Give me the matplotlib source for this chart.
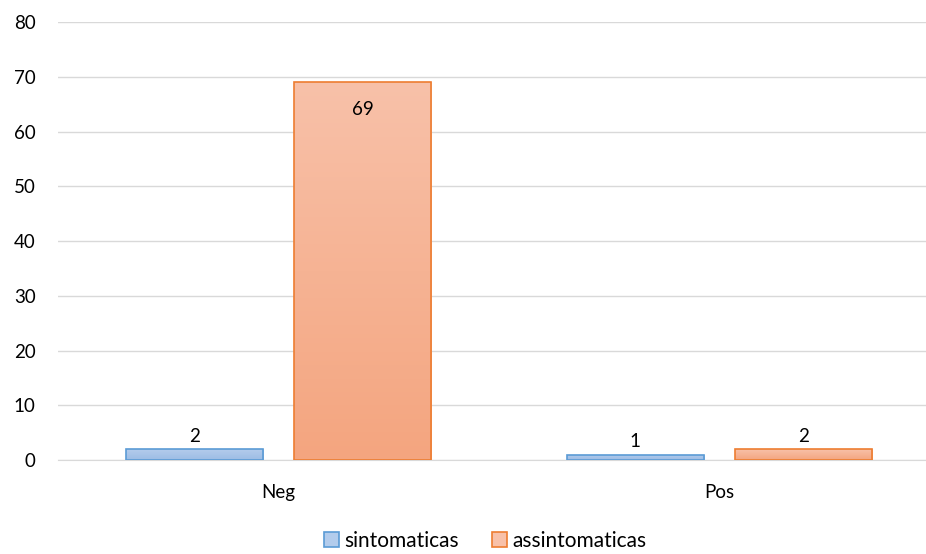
import numpy as np
import matplotlib.pyplot as plt
from matplotlib.colors import LinearSegmentedColormap
from matplotlib.patches import Patch

plt.rcParams['font.family'] = ['Lato', 'DejaVu Sans']

categories = ["Neg", "Pos"]
sintomaticas = [2, 1]
assintomaticas = [69, 2]
series_names = ["sintomaticas", "assintomaticas"]

fig = plt.figure(figsize=(9.26, 5.54), dpi=100)
ax = fig.add_axes([0.0626, 0.1697, 0.9525, 0.7903])

x = np.arange(len(categories))
width = 0.311
offsets = [-0.191, 0.191]

styles = [
    {"top": "#B3CCEC", "bottom": "#9DBCE5", "edge": "#5B9BD5"},
    {"top": "#F8C1A9", "bottom": "#F4A57F", "edge": "#ED7D31"},
]

for vals, off, st, name in zip([sintomaticas, assintomaticas], offsets, styles, series_names):
    bars = ax.bar(x + off, vals, width, facecolor="none", edgecolor=st["edge"],
                  linewidth=1.2, zorder=3, label=name)
    cmap = LinearSegmentedColormap.from_list("g", [st["bottom"], st["top"]])
    for b, v in zip(bars, vals):
        x0, y0 = b.get_x(), b.get_y()
        w, h = b.get_width(), b.get_height()
        grad = np.linspace(0, 1, 256).reshape(-1, 1)
        im = ax.imshow(grad, cmap=cmap, aspect="auto", origin="lower",
                       extent=[x0, x0 + w, y0, y0 + h], zorder=2)
        im.set_clip_path(b)
        cx = x0 + w / 2
        # big bars get the label inside, small ones above
        dy = -27 if v > 10 else 13
        ax.annotate(str(v), (cx, v), xytext=(0, dy), textcoords="offset pixels",
                    ha="center", va="center", fontsize=13.5, zorder=4)

ax.set_xlim(-0.5, 1.5)
ax.set_ylim(0, 80)
ax.set_yticks(range(0, 81, 10))
ax.set_xticks(x)
ax.set_xticklabels(categories)
ax.tick_params(length=0, labelsize=13.5, colors="#000000")
ax.tick_params(axis="y", pad=16)
ax.tick_params(axis="x", pad=17)
ax.grid(axis="y", color="#D9D9D9", linewidth=1, zorder=0)
ax.set_axisbelow(True)
for s in ["top", "right", "left"]:
    ax.spines[s].set_visible(False)
ax.spines["bottom"].set_color("#D9D9D9")

handles = [Patch(facecolor=st["top"], edgecolor=st["edge"], linewidth=1.2) for st in styles]
ax.legend(handles, series_names, loc="center", bbox_to_anchor=(0.524, 0.024),
          bbox_transform=fig.transFigure, ncol=2, frameon=False, fontsize=15,
          handlelength=0.7, handleheight=0.7, handletextpad=0.25, columnspacing=1.6,
          borderpad=0)

fig.savefig("out.png", dpi=100)
